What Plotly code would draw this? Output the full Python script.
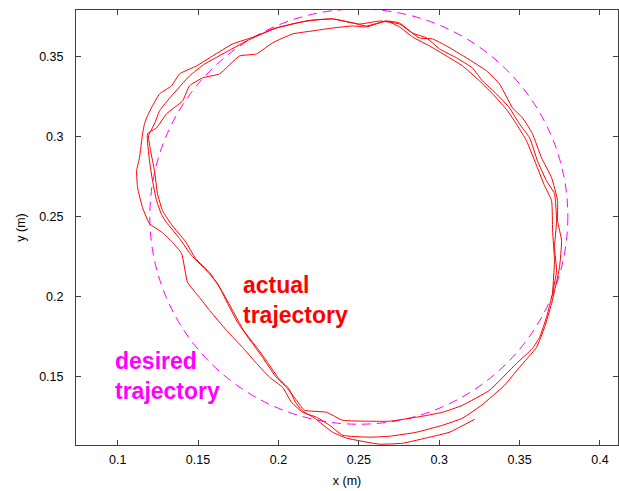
import plotly.graph_objects as go

# ---- actual trajectory (metres), in drawing order ----
r0_x = [0.3705,0.3717,0.3705,0.3699,0.3655,0.3611,0.3543,0.3487,0.3425,0.3344,0.3251,0.3145,0.3045,0.2940,0.2834,0.2753]
r0_y = [0.2019,0.2225,0.2413,0.2600,0.2694,0.2806,0.2975,0.3069,0.3163,0.3256,0.3350,0.3444,0.3506,0.3569,0.3625,0.3688]
t3_x = [0.2672,0.2548,0.2461,0.2337,0.2212,0.2088,0.1963,0.1864,0.1758,0.1634,0.1528,0.1447,0.1404,0.1304,0.1242,0.1186]
t3_y = [0.3725,0.3688,0.3694,0.3681,0.3663,0.3644,0.3588,0.3519,0.3506,0.3394,0.3369,0.3319,0.3225,0.3144,0.3056,0.3019]
l2_x = [0.1198,0.1217,0.1242,0.1273,0.1304,0.1385,0.1460,0.1541,0.1621,0.1684,0.1746,0.1833,0.1901,0.1982,0.2050]
l2_y = [0.2850,0.2725,0.2600,0.2513,0.2463,0.2363,0.2256,0.2175,0.2081,0.1956,0.1838,0.1713,0.1619,0.1500,0.1431]
bu_x = [0.2113,0.2162,0.2299,0.2399,0.2567,0.2691,0.2859,0.3021,0.3145,0.3313]
bu_y = [0.1350,0.1288,0.1275,0.1225,0.1219,0.1219,0.1244,0.1275,0.1319,0.1413]
r1_x = [0.3481,0.3580,0.3624,0.3667,0.3705,0.3730,0.3717,0.3730,0.3717,0.3667,0.3611,0.3562,0.3499,0.3437,0.3356,0.3269,0.3207,0.3108,0.3002,0.2921,0.2834,0.2753]
r1_y = [0.1581,0.1675,0.1744,0.1869,0.2019,0.2163,0.2306,0.2475,0.2644,0.2725,0.2850,0.2994,0.3081,0.3181,0.3269,0.3350,0.3431,0.3494,0.3550,0.3619,0.3650,0.3713]
t1_x = [0.2672,0.2548,0.2461,0.2337,0.2212,0.2113,0.1988,0.1864,0.1715,0.1590,0.1491,0.1385,0.1335,0.1261,0.1217,0.1180,0.1167,0.1155]
t1_y = [0.3725,0.3694,0.3713,0.3738,0.3731,0.3713,0.3681,0.3631,0.3581,0.3506,0.3444,0.3394,0.3319,0.3269,0.3194,0.3119,0.3081,0.3019]
l1_x = [0.1136,0.1118,0.1124,0.1155,0.1198,0.1279,0.1342,0.1398,0.1435,0.1509,0.1572,0.1677,0.1777,0.1864,0.1945,0.2026]
l1_y = [0.2869,0.2788,0.2681,0.2556,0.2456,0.2400,0.2338,0.2269,0.2088,0.1994,0.1913,0.1788,0.1681,0.1581,0.1494,0.1431]
bm_x = [0.2081,0.2150,0.2237,0.2318,0.2399,0.2567,0.2691,0.2859,0.3021,0.3145,0.3263]
bm_y = [0.1338,0.1275,0.1244,0.1194,0.1131,0.1119,0.1125,0.1150,0.1194,0.1238,0.1319]
r2_x = [0.3406,0.3499,0.3605,0.3655,0.3699,0.3748,0.3761,0.3736,0.3736,0.3699,0.3636,0.3580,0.3518,0.3456,0.3375,0.3294,0.3170,0.3045,0.2958,0.2877,0.2753]
r2_y = [0.1444,0.1556,0.1681,0.1806,0.1956,0.2181,0.2350,0.2475,0.2600,0.2744,0.2869,0.3019,0.3119,0.3181,0.3331,0.3413,0.3494,0.3569,0.3613,0.3619,0.3706]
t2_x = [0.2629,0.2505,0.2337,0.2175,0.1963,0.1802,0.1665,0.1541,0.1447,0.1335,0.1261,0.1229,0.1192]
t2_y = [0.3725,0.3706,0.3738,0.3725,0.3675,0.3600,0.3525,0.3456,0.3381,0.3256,0.3163,0.3081,0.3006]
l3_x = [0.1205,0.1229,0.1248,0.1279,0.1335,0.1422,0.1485,0.1572,0.1646,0.1715,0.1783,0.1870,0.1932,0.2001,0.2063]
l3_y = [0.2913,0.2788,0.2644,0.2538,0.2450,0.2344,0.2238,0.2150,0.2038,0.1913,0.1788,0.1675,0.1588,0.1488,0.1425]
bl_x = [0.2106,0.2144,0.2225,0.2337,0.2424,0.2629,0.2772,0.2940,0.3064,0.3220]
bl_y = [0.1338,0.1288,0.1238,0.1150,0.1113,0.1075,0.1081,0.1119,0.1150,0.1231]

# ---- desired trajectory: circle ----
circle_cx = 0.25
circle_cy = 0.25
circle_r = 0.13

# ---- axes ----
x_range = [0.0741, 0.4112]
y_range = [0.107, 0.3794]
x_ticks = [0.1, 0.15, 0.2, 0.25, 0.3, 0.35, 0.4]
x_tick_labels = ["0.1", "0.15", "0.2", "0.25", "0.3", "0.35", "0.4"]
y_ticks = [0.15, 0.2, 0.25, 0.3, 0.35]
y_tick_labels = ["0.15", "0.2", "0.25", "0.3", "0.35"]

traj_x = r0_x + t3_x + l2_x + bu_x + r1_x + t1_x + l1_x + bm_x + r2_x + t2_x + l3_x + bl_x
traj_y = r0_y + t3_y + l2_y + bu_y + r1_y + t1_y + l1_y + bm_y + r2_y + t2_y + l3_y + bl_y

FONT = "Liberation Sans, Arial, Helvetica, sans-serif"

fig = go.Figure()
fig.add_trace(go.Scatter(x=traj_x, y=traj_y, mode="lines",
                         line=dict(color="#ff0000", width=1, shape="spline", smoothing=0.4),
                         hoverinfo="skip", showlegend=False))

fig.add_shape(type="circle", xref="x", yref="y",
              x0=circle_cx - circle_r, x1=circle_cx + circle_r,
              y0=circle_cy - circle_r, y1=circle_cy + circle_r,
              line=dict(color="#ff00ff", width=1, dash="9px,6px"), layer="below")

fig.add_annotation(x=0.1765, y=0.1975, xref="x", yref="y", xanchor="left", yanchor="middle",
                   text="<b>actual<br>trajectory</b>", showarrow=False, align="left",
                   font=dict(family=FONT, size=23, color="#ff0000"))
fig.add_annotation(x=0.0968, y=0.1500, xref="x", yref="y", xanchor="left", yanchor="middle",
                   text="<b>desired<br>trajectory</b>", showarrow=False, align="left",
                   font=dict(family=FONT, size=23, color="#ff00ff"))

axis_common = dict(showgrid=False, zeroline=False, ticks="inside", ticklen=5,
                   tickcolor="#404040", showline=True, linecolor="#404040", linewidth=1,
                   mirror="ticks", automargin=False,
                   tickfont=dict(family=FONT, size=12.5, color="black"))

fig.update_xaxes(range=x_range, tickvals=x_ticks, ticktext=x_tick_labels, ticklabelstandoff=3,
                 title=dict(text="x (m)", font=dict(family=FONT, size=12.5, color="black"), standoff=10),
                 **axis_common)
fig.update_yaxes(range=y_range, tickvals=y_ticks, ticktext=y_tick_labels, ticklabelstandoff=9,
                 title=dict(text="y (m)", font=dict(family=FONT, size=12.5, color="black"), standoff=10),
                 **axis_common)

fig.update_layout(width=619, height=491, margin=dict(l=76, r=1, t=10, b=46),
                  plot_bgcolor="white", paper_bgcolor="white",
                  font=dict(family=FONT))

fig.write_html("out.html", config={"displayModeBar": False},
               post_script="document.body.style.margin='0';document.body.style.overflow='hidden';")
